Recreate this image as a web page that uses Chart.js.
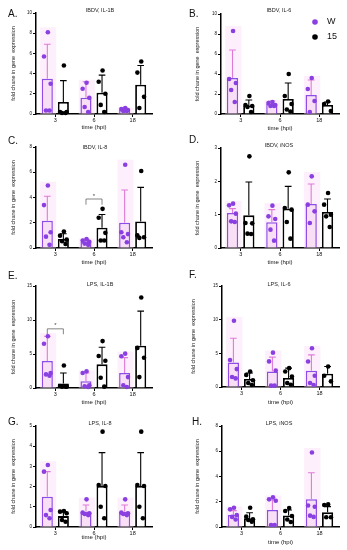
<!DOCTYPE html>
<html>
<head>
<meta charset="utf-8">
<script src="https://cdn.jsdelivr.net/npm/chart.js@4.4.1/dist/chart.umd.min.js"></script>
<style>
  body { margin: 0; background: #fff; width: 347px; height: 550px; position: relative; overflow: hidden; }
  canvas { position: absolute; }
</style>
</head>
<body>
<script>
// ─── data ───
const times = ['3', '6', '18'];

// A. IBDV, IL-1B
const aW = [3.5, 1.6, 0.4];
const aWSd = [6.9, 3.2, 0.6];
const aWPts = [[8.1, 5.7, 3.0, 0.35, 0.35], [3.1, 2.5, 1.6, 0.7, 0.2], [0.6, 0.5, 0.4, 0.3, 0.3]];
const a15 = [1.2, 2.1, 2.9];
const a15Sd = [3.3, 3.85, 4.8];
const a15Pts = [[4.8, 0.2, 0.2, 0.1, 0.1], [4.3, 3.2, 2.0, 0.9, 0.2], [5.2, 4.1, 1.7, 0.6]];

// B. IBDV, IL-6
const bW = [3.6, 1.0, 1.9];
const bWSd = [6.4, 1.3, 3.4];
const bWPts = [[8.3, 3.5, 3.1, 2.4, 1.2], [1.2, 1.1, 0.9, 0.8, 0.8], [3.6, 2.5, 1.3, 0.2]];
const b15 = [0.85, 1.5, 0.9];
const b15Sd = [1.4, 3.1, 1.2];
const b15Pts = [[1.8, 0.9, 0.8, 0.7, 0.2], [4.0, 1.8, 1.0, 0.45, 0.25], [1.25, 1.0, 0.3]];

// C. IBDV, IL-8
const cW = [2.15, 0.47, 2.0];
const cWSd = [4.1, 0.7, 4.6];
const cWPts = [[4.95, 3.4, 1.25, 0.9, 0.25], [0.7, 0.6, 0.5, 0.35, 0.25], [6.6, 1.25, 1.1, 0.85, 0.45]];
const c15 = [0.72, 1.6, 2.1];
const c15Sd = [1.13, 2.65, 4.8];
const c15Pts = [[1.3, 0.98, 0.66, 0.53, 0.32], [3.1, 2.4, 1.2, 0.6, 0.6], [6.1, 1.0, 0.85, 0.8]];
const cSig = { cat: 1, y: 3.88, drop: 0.45 };

// D. IBDV, iNOS
const dW = [1.05, 0.77, 1.32];
const dWSd = [1.18, 1.15, 1.92];
const dWPts = [[1.33, 1.28, 1.03, 0.8, 0.78], [1.27, 0.95, 0.87, 0.55, 0.22], [2.15, 1.3, 1.1, 0.75]];
const d15 = [0.98, 1.18, 1.08];
const d15Sd = [1.98, 1.85, 1.47];
const d15Pts = [[2.75, 0.75, 0.74, 0.43, 0.42], [2.27, 1.2, 1.15, 0.78, 0.28], [1.65, 1.3, 1.0, 0.95, 0.63]];

// E. LPS, IL-1B
const eW = [3.97, 0.98, 2.2];
const eWSd = [7.6, 2.2, 4.46];
const eWPts = [[7.6, 6.5, 2.2, 2.0, 1.8], [2.45, 2.2, 0.4, 0.25, 0.15], [5.05, 4.66, 1.6, 0.4, 0.15]];
const e15 = [0.66, 3.48, 6.22];
const e15Sd = [2.2, 6.0, 11.3];
const e15Pts = [[3.3, 0.3, 0.2, 0.2, 0.2], [6.9, 4.7, 4.0, 1.5, 0.2], [13.3, 5.9, 4.45, 1.6]];
const eSig = { cat: 0, y: 8.7, drop: 0.8 };

// F. LPS, IL-6
const fW = [3.64, 2.31, 2.41];
const fWSd = [7.23, 4.43, 4.77];
const fWPts = [[9.84, 4.0, 2.66, 1.48, 1.28], [5.1, 3.8, 2.46, 0.2, 0.2], [5.75, 3.79, 1.67, 0.6, 0.3]];
const f15 = [1.18, 1.33, 1.97];
const f15Sd = [2.07, 2.8, 3.05];
const f15Pts = [[2.3, 1.8, 1.0, 0.6, 0.3], [2.8, 2.3, 1.57, 0.6, 0.34], [3.05, 1.67, 0.84]];

// G. LPS, IL-8
const gW = [1.5, 0.76, 0.76];
const gWSd = [2.74, 1.09, 1.09];
const gWPts = [[3.07, 2.74, 0.84, 0.59, 0.43], [1.37, 0.71, 0.68, 0.64, 0.59], [1.37, 0.71, 0.68, 0.64, 0.59]];
const g15 = [0.54, 2.03, 2.03];
const g15Sd = [0.76, 3.68, 3.68];
const g15Pts = [[0.79, 0.76, 0.68, 0.35, 0.26], [4.72, 2.08, 2.03, 1.0, 0.43], [4.72, 2.08, 2.03, 1.0, 0.43]];

// H. LPS, iNOS
const hW = [0.95, 1.35, 2.19];
const hWSd = [1.3, 2.14, 4.3];
const hWPts = [[1.53, 1.4, 0.95, 0.8, 0.6], [2.35, 2.19, 2.08, 0.16, 0.16], [5.9, 1.7, 1.6, 0.9, 0.8]];
const h15 = [0.69, 0.92, 1.16];
const h15Sd = [1.13, 1.35, 1.61];
const h15Pts = [[1.53, 0.82, 0.61, 0.55, 0.42], [1.5, 1.27, 0.87, 0.6, 0.4], [1.79, 1.74, 0.77, 0.77]];

// ─── styling ───
Chart.defaults.font.family = "'Liberation Sans', Arial, sans-serif";
const PURPLE = '#8a3fe0', PINK_ERR = '#e07ad8';
const jitter = [0.05, -0.3, 0.3, -0.12, 0.2];

const panels = [
  { letter: 'A.', title: 'IBDV, IL-1B', box: [0, 0, 172, 135],   area: [36, 13, 152, 114], yMax: 10, yStep: 2, titleAt: [100, 10], letterAt: [8, 14],  yLblX: 13, timeY: 127,
    w: aW, wSd: aWSd, wPts: aWPts, k: a15, kSd: a15Sd, kPts: a15Pts },
  { letter: 'B.', title: 'IBDV, IL-6',  box: [172, 0, 175, 135], area: [49, 14, 167, 114], yMax: 10, yStep: 2, titleAt: [107, 10], letterAt: [17, 14], yLblX: 25, timeY: 128, legend: true,
    w: bW, wSd: bWSd, wPts: bWPts, k: b15, kSd: b15Sd, kPts: b15Pts },
  { letter: 'C.', title: 'IBDV, IL-8',  box: [0, 135, 172, 135], area: [36, 12, 152, 113], yMax: 8, yStep: 2, titleAt: [95, 12], letterAt: [8, 6],   yLblX: 13, timeY: 127, sig: cSig,
    w: cW, wSd: cWSd, wPts: cWPts, k: c15, kSd: c15Sd, kPts: c15Pts },
  { letter: 'D.', title: 'IBDV, iNOS',  box: [172, 135, 175, 135], area: [49, 13, 167, 113], yMax: 3, yStep: 1, titleAt: [107, 10], letterAt: [17, 5], yLblX: 25, timeY: 127,
    w: dW, wSd: dWSd, wPts: dWPts, k: d15, kSd: d15Sd, kPts: d15Pts },
  { letter: 'E.', title: 'LPS, IL-1B',  box: [0, 270, 172, 140], area: [36, 16, 152, 118], yMax: 15, yStep: 5, titleAt: [100, 14], letterAt: [8, 6],  yLblX: 13, timeY: 132, sig: eSig,
    w: eW, wSd: eWSd, wPts: eWPts, k: e15, kSd: e15Sd, kPts: e15Pts },
  { letter: 'F.', title: 'LPS, IL-6',   box: [172, 270, 175, 140], area: [50, 16, 167, 117], yMax: 15, yStep: 5, titleAt: [107, 14], letterAt: [17, 5], yLblX: 21, timeY: 132,
    w: fW, wSd: fWSd, wPts: fWPts, k: f15, kSd: f15Sd, kPts: f15Pts },
  { letter: 'G.', title: 'LPS, IL-8',   box: [0, 410, 172, 140], area: [36, 16, 152, 117], yMax: 5, yStep: 1, titleAt: [100, 13], letterAt: [8, 12], yLblX: 13, timeY: 127,
    w: gW, wSd: gWSd, wPts: gWPts, k: g15, kSd: g15Sd, kPts: g15Pts },
  { letter: 'H.', title: 'LPS, iNOS',   box: [172, 410, 175, 140], area: [50, 16, 167, 117], yMax: 8, yStep: 2, titleAt: [107, 13], letterAt: [20, 12], yLblX: 25, timeY: 132,
    w: hW, wSd: hWSd, wPts: hWPts, k: h15, kSd: h15Sd, kPts: h15Pts }
];

function makePanel(p) {
  const [bx, by, bw, bh] = p.box;
  const [l, t, r, b] = p.area;
  const cv = document.createElement('canvas');
  cv.width = bw; cv.height = bh;
  cv.style.left = bx + 'px'; cv.style.top = by + 'px';
  document.body.appendChild(cv);

  const marks = {
    id: 'marks',
    beforeDatasetsDraw(chart) {
      // faint pink wash behind the W bars
      const { ctx, scales: { y } } = chart;
      const ds = chart.data.datasets[0];
      chart.getDatasetMeta(0).data.forEach((bar, j) => {
        const top = y.getPixelForValue(Math.max(ds.sd[j], ...ds.pts[j]) * 1.06);
        ctx.fillStyle = 'rgba(250,215,246,0.4)';
        ctx.fillRect(bar.x - bar.width * 0.65, top, bar.width * 1.45, y.bottom - top);
      });
    },
    afterDatasetsDraw(chart) {
      const { ctx, scales: { y } } = chart;
      chart.data.datasets.forEach((ds, i) => {
        chart.getDatasetMeta(i).data.forEach((bar, j) => {
          const x = bar.x, top = y.getPixelForValue(ds.sd[j]), cw = bar.width * 0.3;
          ctx.strokeStyle = ds.errColor; ctx.lineWidth = 1.1;
          ctx.beginPath();
          ctx.moveTo(x, bar.y); ctx.lineTo(x, top);
          ctx.moveTo(x - cw, top); ctx.lineTo(x + cw, top);
          ctx.stroke();
          ctx.fillStyle = ds.dotColor;
          ds.pts[j].forEach((v, k) => {
            ctx.beginPath();
            ctx.arc(x + jitter[k] * bar.width, y.getPixelForValue(v), 2.3, 0, Math.PI * 2);
            ctx.fill();
          });
        });
      });
      if (p.sig) {
        const x1 = chart.getDatasetMeta(0).data[p.sig.cat].x;
        const x2 = chart.getDatasetMeta(1).data[p.sig.cat].x;
        const yy = y.getPixelForValue(p.sig.y), yd = y.getPixelForValue(p.sig.y - p.sig.drop);
        ctx.strokeStyle = '#666'; ctx.lineWidth = 0.8;
        ctx.beginPath();
        ctx.moveTo(x1, yd); ctx.lineTo(x1, yy); ctx.lineTo(x2, yy); ctx.lineTo(x2, yd);
        ctx.stroke();
        ctx.fillStyle = '#444'; ctx.font = "6px 'Liberation Sans', Arial";
        ctx.textAlign = 'center'; ctx.textBaseline = 'middle';
        ctx.fillText('*', (x1 + x2) / 2, yy - 3);
      }
    },
    afterDraw(chart) {
      const { ctx } = chart;
      ctx.save();
      ctx.fillStyle = '#111';
      ctx.font = "10px 'Liberation Sans', Arial";
      ctx.textAlign = 'left'; ctx.textBaseline = 'middle';
      ctx.fillText(p.letter, p.letterAt[0], p.letterAt[1]);
      ctx.fillStyle = '#222';
      ctx.font = "5.5px 'Liberation Sans', Arial";
      ctx.textAlign = 'center';
      ctx.fillText(p.title, p.titleAt[0], p.titleAt[1]);
      if (p.legend) {
        ctx.font = "9px 'Liberation Sans', Arial";
        ctx.textAlign = 'left';
        [['W', PURPLE, 22], ['15', '#000', 37]].forEach(([txt, col, yy]) => {
          ctx.fillStyle = col;
          ctx.beginPath(); ctx.arc(143, yy, 2.8, 0, Math.PI * 2); ctx.fill();
          ctx.fillStyle = '#111';
          ctx.fillText(txt, 155, yy);
        });
      }
      ctx.restore();
    }
  };

  new Chart(cv, {
    type: 'bar',
    data: {
      labels: times,
      datasets: [
        { label: 'W', data: p.w, sd: p.wSd, pts: p.wPts, backgroundColor: '#f8dff6', borderColor: '#8d4de6',
          borderWidth: 1.5, dotColor: PURPLE, errColor: PINK_ERR },
        { label: '15', data: p.k, sd: p.kSd, pts: p.kPts, backgroundColor: '#fff', borderColor: '#000',
          borderWidth: 1.8, dotColor: '#000', errColor: '#000' }
      ]
    },
    options: {
      responsive: false, animation: false,
      layout: { padding: { left: 0, top: t, right: bw - r, bottom: 0 } },
      datasets: { bar: { categoryPercentage: 0.83, barPercentage: 0.69 } },
      plugins: { legend: { display: false }, tooltip: { enabled: false } },
      scales: {
        x: {
          grid: { drawOnChartArea: false, offset: false, tickLength: 3, color: '#000', lineWidth: 1 },
          border: { color: '#000', width: 1.5 },
          ticks: { font: { size: 5.5 }, color: '#111', padding: 0 },
          title: { display: true, text: 'time (hpi)', font: { size: 6 }, color: '#111',
                   padding: { top: 0, bottom: bh - p.timeY - 3.6 } },
          afterFit: s => { s.height = bh - b; }
        },
        y: {
          min: 0, max: p.yMax,
          ticks: { stepSize: p.yStep, font: { size: 4.5 }, color: '#111', padding: 1 },
          grid: { drawOnChartArea: false, tickLength: 3, color: '#000' },
          border: { color: '#000', width: 1.5 },
          title: { display: true, text: 'fold chane in gene  expression', font: { size: 5.5 }, color: '#222',
                   padding: { top: p.yLblX - 3.3, bottom: 0 } },
          afterFit: s => { s.width = l; }
        }
      }
    },
    plugins: [marks]
  });
}

panels.forEach(makePanel);
</script>
</body>
</html>
